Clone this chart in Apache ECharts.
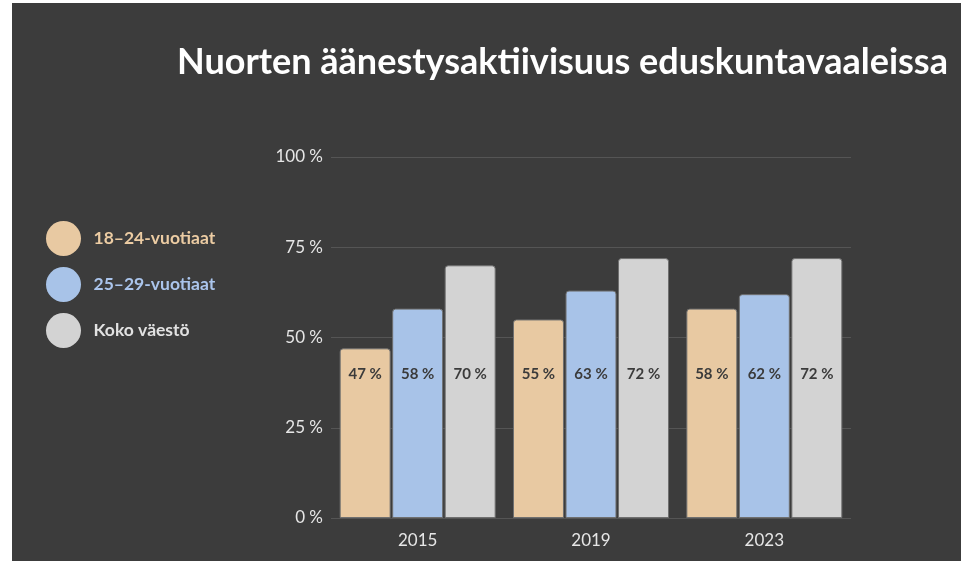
<!DOCTYPE html>
<html>
<head>
<meta charset="utf-8">
<script src="https://cdn.jsdelivr.net/npm/echarts@6/dist/echarts.min.js"></script>
<style>
body{margin:0;background:#ffffff;}
#chart{position:absolute;left:12px;top:3px;width:949px;height:558px;}
</style>
</head>
<body>
<div id="chart"></div>
<script>
// vuodet ja prosentit
var years = ['2015', '2019', '2023'];
var nuoret1824 = [47, 55, 58];
var nuoret2529 = [58, 63, 62];
var kokoVaesto = [70, 72, 72];
var seriesNames = ['18–24-vuotiaat', '25–29-vuotiaat', 'Koko väestö'];
var colors = ['#e8c9a2', '#a8c3e8', '#d3d3d3'];
var textColors = ['#eccca3', '#abc5ec', '#e2e2e2'];

var myChart = echarts.init(document.getElementById('chart'));

function makeSeries(name, data, color) {
	return {
		name: name,
		type: 'bar',
		data: data,
		barGap: '3%',
		barCategoryGap: '10%',
		itemStyle: {
			color: color,
			borderColor: '#6f6f6f',
			borderWidth: 1,
			borderRadius: [3, 3, 0, 0]
		},
		label: {
			show: true,
			position: 'insideBottom',
			distance: 136,
			formatter: '{c} %',
			color: '#3b3b3b',
			fontFamily: 'Lato',
			fontWeight: 'bold',
			fontSize: 15
		}
	};
}

var option = {
	backgroundColor: '#3c3c3c',
	title: {
		text: 'Nuorten äänestysaktiivisuus eduskuntavaaleissa',
		left: 160,
		top: 36,
		textStyle: {
			color: '#ffffff',
			fontFamily: 'Lato',
			fontWeight: 'bold',
			fontSize: 36
		}
	},
	legend: {
		orient: 'vertical',
		left: 29,
		top: 213,
		icon: 'circle',
		itemWidth: 36,
		itemHeight: 35,
		itemGap: 11,
		itemStyle: {borderWidth: 0},
		data: [
			{name: seriesNames[0], textStyle: {color: textColors[0]}},
			{name: seriesNames[1], textStyle: {color: textColors[1]}},
			{name: seriesNames[2], textStyle: {color: textColors[2]}}
		],
		textStyle: {
			fontFamily: 'Lato',
			fontWeight: 'bold',
			fontSize: 17.5,
			padding: [0, 0, 0, 7]
		}
	},
	grid: {
		left: 319,
		right: 110,
		top: 154,
		bottom: 43
	},
	xAxis: {
		type: 'category',
		data: years,
		axisLine: {show: false},
		axisTick: {show: false},
		axisLabel: {
			color: '#e6e6e6',
			fontFamily: 'Lato',
			fontSize: 17,
			margin: 14
		}
	},
	yAxis: {
		type: 'value',
		min: 0,
		max: 100,
		interval: 25,
		axisLine: {show: false},
		axisTick: {show: false},
		axisLabel: {
			color: '#e6e6e6',
			fontFamily: 'Lato',
			fontSize: 17,
			margin: 8,
			formatter: '{value} %'
		},
		splitLine: {
			lineStyle: {color: '#555555', width: 1}
		}
	},
	series: [
		makeSeries(seriesNames[0], nuoret1824, colors[0]),
		makeSeries(seriesNames[1], nuoret2529, colors[1]),
		makeSeries(seriesNames[2], kokoVaesto, colors[2])
	]
};
myChart.setOption(option);
</script>
</body>
</html>
